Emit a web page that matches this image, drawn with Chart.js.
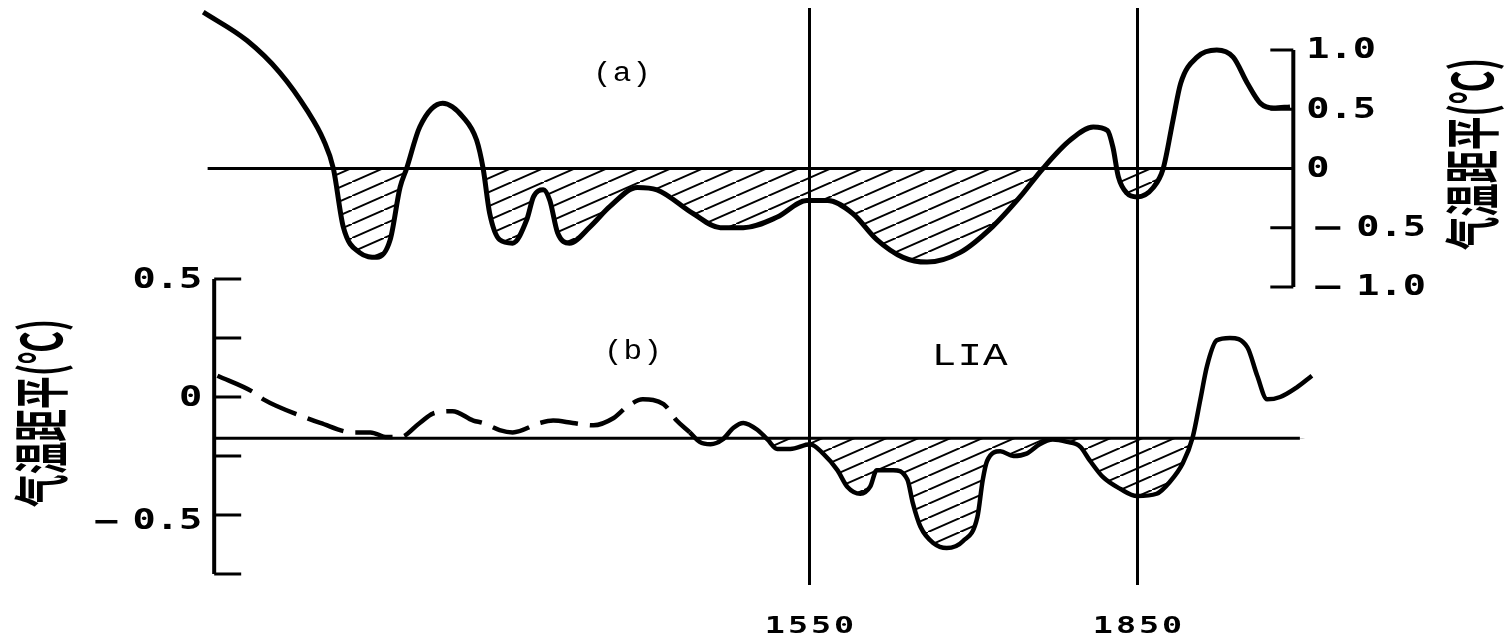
<!DOCTYPE html>
<html>
<head>
<meta charset="utf-8">
<script src="https://cdn.jsdelivr.net/npm/chart.js@4/dist/chart.umd.min.js"></script>
<style>
  html, body { margin: 0; padding: 0; background: #fff; }
  #wrap { width: 1504px; height: 640px; position: relative; }
  canvas { display: block; }
</style>
</head>
<body>
<div id="wrap"><canvas id="c" width="1504" height="640"></canvas></div>
<script>
// (a) temperature anomaly, years and values (°C)
const aYears = [996,1036,1066,1091,1106,1115,1124,1139,1155,1167,1176,1182,1194,1215,1234,
  1246,1252,1258,1267,1279,1292,1298,1307,1313,1320,1331,1350,1368,1393,1411,
  1444,1469,1490,1521,1548,1567,1590,1612,1636,1658,1688,1718,1743,1764,1789,
  1810,1823,1828,1833,1841,1850,1865,1874,1883,1890,1905,1923,1938,1951,1963,1975,1990];
const aValues = [1.32,1.08,0.81,0.49,0.24,0.0,-0.49,-0.71,-0.75,-0.60,-0.16,0.0,0.35,0.55,0.43,
  0.24,0.0,-0.38,-0.60,-0.63,-0.43,-0.24,-0.18,-0.27,-0.54,-0.63,-0.49,-0.32,-0.16,-0.18,
  -0.38,-0.50,-0.50,-0.41,-0.27,-0.27,-0.38,-0.60,-0.75,-0.79,-0.71,-0.49,-0.24,0.0,0.24,
  0.35,0.32,0.18,-0.07,-0.21,-0.24,-0.16,0.0,0.41,0.72,0.94,1.0,0.94,0.72,0.55,0.51,0.52];
const aBaseline = 0;
const aBaseRange = [1000, 1993];

// (b) temperature anomaly, years and values (°C)
const bYears = [1009,1042,1051,1091,1103,1133,1149,1164,1176,1194,1206,1224,1243,1252,1267,
  1279,1304,1316,1334,1353,1371,1384,1398,1417,1429,1441,1450,1460,1471,1481,
  1490,1503,1512,1521,1533,1551,1563,1576,1585,1597,1606,1612,1627,1640,1645,
  1652,1664,1676,1691,1704,1709,1713,1725,1737,1749,1761,1773,1786,1798,1807,
  1819,1835,1850,1868,1880,1892,1901,1908,1914,1923,1935,1951,1960,1969,1981,1996,2010];
const bValues = [0.09,0.02,-0.01,-0.09,-0.11,-0.15,-0.15,-0.17,-0.17,-0.11,-0.07,-0.06,-0.10,-0.11,-0.14,
  -0.15,-0.11,-0.10,-0.11,-0.12,-0.09,-0.04,-0.01,-0.03,-0.10,-0.15,-0.19,-0.20,-0.18,-0.13,
  -0.11,-0.14,-0.18,-0.22,-0.22,-0.20,-0.24,-0.31,-0.38,-0.41,-0.38,-0.31,-0.31,-0.35,-0.45,
  -0.55,-0.62,-0.64,-0.61,-0.51,-0.35,-0.27,-0.23,-0.25,-0.24,-0.20,-0.18,-0.19,-0.21,-0.27,
  -0.34,-0.39,-0.42,-0.41,-0.36,-0.28,-0.17,-0.01,0.13,0.24,0.25,0.21,0.09,-0.01,0.00,0.04,0.09];
const bBaseline = -0.175;
const bBaseRange = [1006, 1999];
const bDashedUntil = 1441;

// period boundaries and axis ticks
const periodYears = [1550, 1850];
const periodLabels = ['1550', '1850'];
const aTicks = [1.0, 0.5, 0, -0.5, -1.0];
const aTickLabels = ['1.0', '0.5', '0', '−0.5', '−1.0'];
const aAxisYear = 1993;
const bTicks = [0.5, 0.25, 0, -0.25, -0.5, -0.75];
const bTickLabels = ['0.5', '', '0', '', '−0.5', ''];
const bAxisYear = 1006;
const axisTitle = '气温距平(℃)';
const panelNotes = [
  { text: '(a)', year: 1379, value: 0.80, axis: 'yA' },
  { text: '(b)', year: 1389, value: 0.19, axis: 'yB' },
  { text: 'LIA', year: 1697, value: 0.17, axis: 'yB' }
];

const toPoints = (xs, ys) => xs.map((x, i) => ({ x, y: ys[i] }));

function makeHatch() {
  const w = 32, h = 14;
  const c = document.createElement('canvas');
  c.width = w; c.height = h;
  const g = c.getContext('2d');
  g.strokeStyle = '#000';
  g.lineWidth = 2;
  for (const [dx, dy] of [[0, 0], [-w, h], [w, -h]]) {
    g.beginPath();
    g.moveTo(dx, h + dy);
    g.lineTo(w + dx, dy);
    g.stroke();
  }
  return g.createPattern(c, 'repeat');
}
const hatch = makeHatch();

// draws text glyph by glyph, widened by sx and separated by spacing
function spacedText(ctx, str, x, y, spacing, align, sx = 1) {
  const chars = [...str];
  const widths = chars.map(ch => ctx.measureText(ch).width * sx);
  const total = widths.reduce((s, v) => s + v, 0) + spacing * (chars.length - 1);
  let cx = align === 'right' ? x - total : align === 'center' ? x - total / 2 : x;
  ctx.textAlign = 'left';
  chars.forEach((ch, i) => {
    ctx.save();
    ctx.translate(cx, y);
    ctx.scale(sx, 1);
    ctx.fillText(ch, 0, 0);
    ctx.restore();
    cx += widths[i] + spacing;
  });
  return total;
}

function rotatedTitle(ctx, text, cx, cy, length, size) {
  ctx.save();
  ctx.translate(cx, cy);
  ctx.rotate(-Math.PI / 2);
  ctx.font = `bold ${size}px "Noto Sans CJK SC"`;
  const w = ctx.measureText(text).width;
  ctx.scale(length / w, 1);
  ctx.textAlign = 'center';
  ctx.textBaseline = 'middle';
  ctx.fillText(text, 0, 0);
  ctx.restore();
}

const TICK_FONT = 'bold 28px "DejaVu Sans Mono"';

const overlay = {
  id: 'overlay',
  beforeDraw(chart) {
    const ctx = chart.ctx;
    ctx.save();
    ctx.fillStyle = '#fff';
    ctx.fillRect(0, 0, chart.width, chart.height);
    ctx.restore();
  },
  afterDatasetsDraw(chart) {
    const { ctx, scales } = chart;
    const x = scales.x, yA = scales.yA, yB = scales.yB;
    ctx.save();
    ctx.strokeStyle = '#000';
    ctx.fillStyle = '#000';
    ctx.lineCap = 'butt';
    ctx.textBaseline = 'middle';

    // period boundary lines across both panels
    ctx.lineWidth = 3;
    periodYears.forEach((yr, i) => {
      const px = Math.round(x.getPixelForValue(yr)) + 0.5;
      ctx.beginPath();
      ctx.moveTo(px, 8);
      ctx.lineTo(px, 585);
      ctx.stroke();
      ctx.font = 'bold 23px "DejaVu Sans Mono"';
      spacedText(ctx, periodLabels[i], px, 627, 3, 'center', 1.45);
    });

    // (a) axis on the right
    const ax = x.getPixelForValue(aAxisYear);
    ctx.lineWidth = 4;
    ctx.beginPath();
    ctx.moveTo(ax, yA.getPixelForValue(aTicks[0]));
    ctx.lineTo(ax, yA.getPixelForValue(aTicks[aTicks.length - 1]));
    ctx.stroke();
    ctx.lineWidth = 3;
    ctx.font = TICK_FONT;
    aTicks.forEach((v, i) => {
      const py = yA.getPixelForValue(v);
      ctx.beginPath();
      ctx.moveTo(ax - 23, py);
      ctx.lineTo(ax, py);
      ctx.stroke();
      const lab = aTickLabels[i];
      if (!lab) return;
      if (lab.startsWith('−')) {
        ctx.fillRect(ax + 22, py - 1.5, 25, 3.5);
        spacedText(ctx, lab.slice(1), ax + 63, py + 1, 0, 'left', 1.38);
      } else {
        spacedText(ctx, lab, ax + 13, py + 1, 0, 'left', 1.38);
      }
    });
    rotatedTitle(ctx, axisTitle, 1472, 154, 192, 56);

    // (b) axis on the left
    const bx = x.getPixelForValue(bAxisYear);
    ctx.lineWidth = 4;
    ctx.beginPath();
    ctx.moveTo(bx, yB.getPixelForValue(bTicks[0]));
    ctx.lineTo(bx, yB.getPixelForValue(bTicks[bTicks.length - 1]));
    ctx.stroke();
    ctx.lineWidth = 3;
    bTicks.forEach((v, i) => {
      const py = yB.getPixelForValue(v);
      ctx.beginPath();
      ctx.moveTo(bx, py);
      ctx.lineTo(bx + 27, py);
      ctx.stroke();
      const lab = bTickLabels[i];
      if (!lab) return;
      if (lab.startsWith('−')) {
        const w = spacedText(ctx, lab.slice(1), bx - 12, py + 7, 0, 'right', 1.38);
        ctx.fillRect(bx - 12 - w - 37, py + 5, 22, 3.5);
      } else {
        spacedText(ctx, lab, bx - 12, py + 2, 0, 'right', 1.38);
      }
    });
    rotatedTitle(ctx, axisTitle, 41, 413, 188, 56);

    // panel notes
    panelNotes.forEach(n => {
      const px = x.getPixelForValue(n.year);
      const py = scales[n.axis].getPixelForValue(n.value);
      if (n.text === 'LIA') {
        ctx.font = '32px "Liberation Mono"';
        spacedText(ctx, n.text, px, py, 1, 'center', 1.28);
      } else {
        ctx.font = '27px "Liberation Mono"';
        spacedText(ctx, n.text, px, py, 1, 'center', 1.15);
      }
    });
    ctx.restore();
  }
};

new Chart(document.getElementById('c'), {
  type: 'line',
  data: {
    datasets: [
      {
        data: toPoints(aYears, aValues),
        yAxisID: 'yA',
        borderColor: '#000',
        borderWidth: 5,
        cubicInterpolationMode: 'monotone',
        pointRadius: 0,
        fill: { target: { value: aBaseline }, above: 'rgba(0,0,0,0)', below: hatch }
      },
      {
        data: toPoints(bYears, bValues),
        yAxisID: 'yB',
        borderColor: '#000',
        borderWidth: 4.5,
        cubicInterpolationMode: 'monotone',
        pointRadius: 0,
        segment: {
          borderDash: ctx => (ctx.p1.parsed.x <= bDashedUntil ? [38, 12] : undefined)
        },
        fill: { target: { value: bBaseline }, above: 'rgba(0,0,0,0)', below: hatch }
      },
      {
        data: toPoints(aBaseRange, [aBaseline, aBaseline]),
        yAxisID: 'yA',
        borderColor: '#000',
        borderWidth: 3,
        pointRadius: 0,
        fill: false
      },
      {
        data: toPoints(bBaseRange, [bBaseline, bBaseline]),
        yAxisID: 'yB',
        borderColor: '#000',
        borderWidth: 3,
        pointRadius: 0,
        fill: false
      }
    ]
  },
  options: {
    responsive: false,
    devicePixelRatio: 1,
    animation: false,
    layout: { padding: 0 },
    plugins: { legend: { display: false }, tooltip: { enabled: false } },
    scales: {
      x: { type: 'linear', min: 810.1, max: 2185.7, display: false },
      yA: { type: 'linear', min: -3.9789, max: 1.4219, display: false },
      yB: { type: 'linear', min: -1.0297, max: 1.6822, display: false }
    }
  },
  plugins: [overlay]
});
</script>
</body>
</html>
